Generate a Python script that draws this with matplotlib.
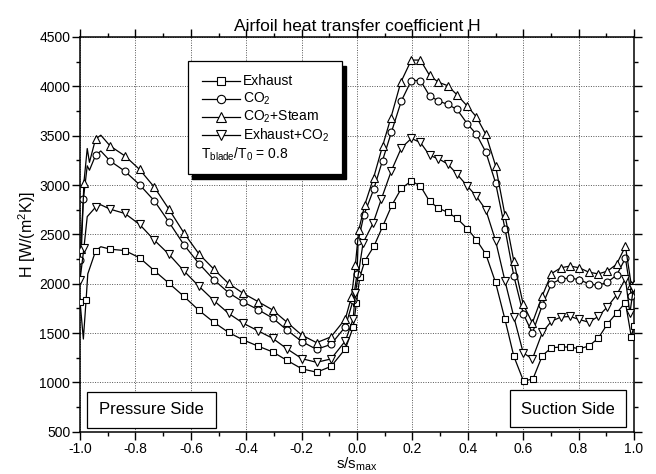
import matplotlib
matplotlib.use("Agg")
import matplotlib.pyplot as plt
from matplotlib.patches import Rectangle
from matplotlib.lines import Line2D
from matplotlib.ticker import MultipleLocator

plt.rcParams['font.family'] = ['Liberation Sans', 'DejaVu Sans']
plt.rcParams['mathtext.fontset'] = 'custom'
plt.rcParams['mathtext.rm'] = 'Liberation Sans'
plt.rcParams['mathtext.it'] = 'Liberation Sans:italic'
plt.rcParams['mathtext.default'] = 'regular'

# s/s_max positions and H values
# (negative = pressure side, positive = suction side)
x_exhaust = [-1.0, -0.988, -0.978, -0.972, -0.944, -0.925, -0.891, -0.838, -0.785,
             -0.732, -0.679, -0.625, -0.571, -0.517, -0.464, -0.411, -0.358, -0.305,
             -0.253, -0.199, -0.146, -0.094, -0.042, -0.014, -0.002, 0.01, 0.028,
             0.061, 0.094, 0.126, 0.16, 0.196, 0.229, 0.262, 0.294, 0.327, 0.361,
             0.398, 0.431, 0.465, 0.5, 0.534, 0.566, 0.601, 0.635, 0.669, 0.702,
             0.736, 0.769, 0.802, 0.837, 0.871, 0.904, 0.937, 0.969, 0.99, 1.0]
h_exhaust = [1820, 1440, 1840, 2100, 2330, 2375, 2350, 2336, 2263,
             2133, 2005, 1872, 1731, 1610, 1507, 1431, 1369, 1310,
             1224, 1138, 1104, 1162, 1341, 1559, 1807, 2066, 2231,
             2380, 2590, 2797, 2966, 3041, 2990, 2834, 2766, 2724, 2662,
             2559, 2445, 2300, 2014, 1640, 1266, 1014, 1035, 1272, 1352,
             1359, 1359, 1341, 1369, 1448, 1593, 1703, 1810, 1465, 1570]
skip_exhaust = [1, 3, 5]

x_co2 = [-1.0, -0.988, -0.974, -0.966, -0.944, -0.925, -0.891, -0.838, -0.785,
         -0.732, -0.679, -0.625, -0.571, -0.517, -0.464, -0.411, -0.358, -0.305,
         -0.253, -0.199, -0.146, -0.094, -0.042, -0.014, 0.0, 0.004, 0.025,
         0.06, 0.092, 0.124, 0.16, 0.196, 0.229, 0.262, 0.294, 0.327, 0.361,
         0.398, 0.431, 0.465, 0.5, 0.534, 0.566, 0.6, 0.633, 0.669, 0.702,
         0.736, 0.769, 0.802, 0.837, 0.871, 0.904, 0.937, 0.969, 0.99, 1.0]
h_co2 = [2245, 2857, 3195, 3150, 3300, 3345, 3243, 3140, 3003,
         2841, 2625, 2395, 2205, 2041, 1910, 1815, 1739, 1653,
         1531, 1414, 1335, 1386, 1565, 1834, 2100, 2431, 2697,
         2955, 3248, 3534, 3852, 4059, 4059, 3903, 3852, 3817, 3766,
         3621, 3514, 3334, 3024, 2559, 2080, 1697, 1500, 1783, 2000,
         2048, 2059, 2041, 2000, 1983, 2017, 2086, 2259, 1880, 1990]
skip_co2 = [2, 3, 5]

x_steam = [-0.995, -0.986, -0.974, -0.966, -0.944, -0.925, -0.891, -0.838, -0.785,
           -0.732, -0.679, -0.625, -0.571, -0.517, -0.464, -0.411, -0.358, -0.305,
           -0.253, -0.199, -0.146, -0.094, -0.042, -0.02, -0.006, 0.006, 0.028,
           0.06, 0.092, 0.122, 0.158, 0.196, 0.229, 0.262, 0.294, 0.327, 0.361,
           0.398, 0.431, 0.465, 0.5, 0.534, 0.566, 0.6, 0.633, 0.669, 0.702,
           0.736, 0.769, 0.802, 0.837, 0.871, 0.904, 0.937, 0.969, 0.99, 1.0]
h_steam = [2350, 3025, 3370, 3230, 3466, 3505, 3395, 3295, 3158,
           2979, 2755, 2515, 2303, 2148, 2003, 1903, 1820, 1735,
           1610, 1479, 1403, 1462, 1645, 1869, 2190, 2541, 2800,
           3076, 3393, 3679, 4041, 4266, 4266, 4110, 4041, 4007, 3914,
           3800, 3690, 3514, 3197, 2697, 2230, 1790, 1604, 1879, 2103,
           2162, 2179, 2162, 2117, 2100, 2128, 2197, 2379, 1990, 2000]
skip_steam = [2, 3, 5]

x_mix = [-1.0, -0.986, -0.974, -0.944, -0.925, -0.891, -0.838, -0.785,
         -0.732, -0.679, -0.625, -0.571, -0.517, -0.464, -0.411, -0.358, -0.305,
         -0.253, -0.199, -0.146, -0.094, -0.042, -0.014, -0.006, 0.022,
         0.058, 0.088, 0.124, 0.16, 0.196, 0.229, 0.262, 0.294, 0.327, 0.361,
         0.398, 0.431, 0.465, 0.5, 0.534, 0.566, 0.6, 0.633, 0.669, 0.702,
         0.736, 0.769, 0.802, 0.837, 0.871, 0.904, 0.937, 0.969, 0.985, 0.998]
h_mix = [2040, 2362, 2680, 2775, 2800, 2755, 2712, 2601,
         2442, 2298, 2130, 1975, 1830, 1700, 1600, 1524, 1448,
         1341, 1241, 1204, 1238, 1421, 1645, 1903, 2415,
         2613, 2860, 3145, 3376, 3472, 3431, 3300, 3266, 3214, 3110,
         2990, 2886, 2748, 2438, 2030, 1665, 1300, 1238, 1507, 1621,
         1662, 1669, 1638, 1610, 1669, 1766, 1886, 2052, 1700, 1960]
skip_mix = [2, 4]

series = [
    (x_exhaust, h_exhaust, skip_exhaust, 's', 4.5, "Exhaust"),
    (x_co2, h_co2, skip_co2, 'o', 5, "CO$_2$"),
    (x_steam, h_steam, skip_steam, '^', 5.5, "CO$_2$+Steam"),
    (x_mix, h_mix, skip_mix, 'v', 5.5, "Exhaust+CO$_2$"),
]

fig = plt.figure(figsize=(6.56, 4.74), dpi=100)
ax = fig.add_axes([0.122, 0.089, 0.8445, 0.833])

for xs, hs, skip, mk, ms, name in series:
    marked = [i for i in range(len(xs)) if i not in skip]
    ax.plot(xs, hs, color='black', lw=0.9, marker=mk, ms=ms, mfc='white',
            mec='black', mew=0.8, markevery=marked, zorder=3)

ax.set_xlim(-1.0, 1.0)
ax.set_ylim(500, 4500)
ax.xaxis.set_major_locator(MultipleLocator(0.2))
ax.xaxis.set_minor_locator(MultipleLocator(0.1))
ax.yaxis.set_major_locator(MultipleLocator(500))
ax.yaxis.set_minor_locator(MultipleLocator(250))
ax.xaxis.set_major_formatter(plt.FuncFormatter(lambda v, p: f"{v:.1f}"))
ax.tick_params(which='both', direction='out', top=True, right=True,
               labelsize=10, width=1.0, pad=1.5)
ax.tick_params(which='major', length=5.5)
ax.tick_params(which='minor', length=3)
ax.grid(True, which='major', color='#555555', linestyle=(0, (1, 1.5)), lw=0.7)
for sp in ax.spines.values():
    sp.set_linewidth(1.1)

ax.set_title("Airfoil heat transfer coefficient H", fontsize=12.5, pad=4)
ax.set_xlabel("s/s$_{max}$", fontsize=11, labelpad=0)
ax.set_ylabel("H [W/(m$^2$K)]", fontsize=11.5, labelpad=1)

# legend box with solid shadow
lx0, lx1, ly0, ly1 = 0.194, 0.472, 0.653, 0.939
ax.add_patch(Rectangle((lx0 + 0.008, ly0 - 0.013), lx1 - lx0, ly1 - ly0,
                       transform=ax.transAxes, fc='black', ec='black', zorder=5))
ax.add_patch(Rectangle((lx0, ly0), lx1 - lx0, ly1 - ly0, transform=ax.transAxes,
                       fc='white', ec='black', lw=0.9, zorder=6))
rows = [0.889, 0.843, 0.797, 0.752]
for (xs, hs, skip, mk, ms, name), ry in zip(series, rows):
    ax.add_line(Line2D([0.22, 0.289], [ry, ry], transform=ax.transAxes,
                       color='black', lw=0.9, zorder=7))
    ax.add_line(Line2D([0.2545], [ry], transform=ax.transAxes, marker=mk, ms=ms + 1,
                       mfc='white', mec='black', mew=0.8, zorder=8))
    ax.text(0.294, ry, name, transform=ax.transAxes, fontsize=10, va='center',
            ha='left', zorder=8)
ax.text(0.218, 0.703, "T$_{blade}$/T$_0$ = 0.8", transform=ax.transAxes,
        fontsize=10, va='center', ha='left', zorder=8)

# side labels in framed boxes (data coordinates)
ax.add_patch(Rectangle((-0.976, 541), 0.468, 362, fc='white', ec='black', lw=0.9, zorder=6))
ax.text(-0.742, 724, "Pressure Side", fontsize=12, ha='center', va='center', zorder=7)
ax.add_patch(Rectangle((0.554, 545), 0.417, 378, fc='white', ec='black', lw=0.9, zorder=6))
ax.text(0.762, 731, "Suction Side", fontsize=12, ha='center', va='center', zorder=7)

fig.savefig("out.png", dpi=100, facecolor='white')
